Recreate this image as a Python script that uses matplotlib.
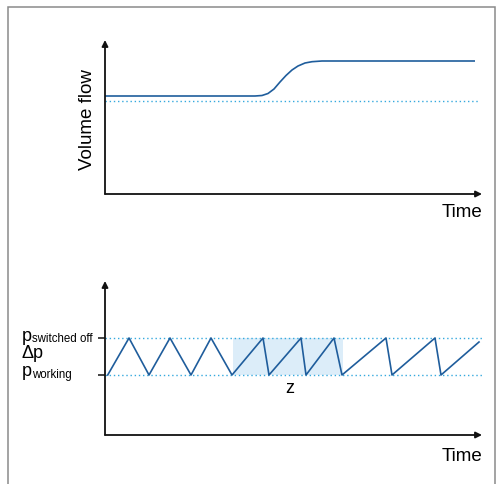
import matplotlib.pyplot as plt
from matplotlib.patches import Rectangle

plt.rcParams['font.family'] = ['Liberation Sans', 'DejaVu Sans']

# top panel: volume flow over time
flow_t = [0, 150, 157, 163, 169, 175, 181, 187, 193, 200, 207, 217, 370]
flow_v = [98, 98, 98.5, 100.5, 105, 112, 118.5, 124, 128, 131, 132.3, 133, 133]
flow_base = 93

# bottom panel: pressure trace
p_t = [2.7, 24, 44, 65, 86, 106, 127, 158, 164, 196, 201, 229, 237, 281, 287, 330, 336, 374]
p_v = [60, 97, 60, 97, 60, 97, 60, 97, 60, 97, 60, 97, 60, 97, 60, 97, 60, 93]
p_working = 60
p_off = 97
z_span = (128, 238)

dark = '#1f5d9c'
light = '#35a9de'
shade = '#dcedf9'

fig = plt.figure(figsize=(4.99, 4.84), dpi=100)
fig.patches.append(Rectangle((7.5 / 499, -0.01), 487 / 499, 1 - 7.5 / 484 + 0.01,
                             transform=fig.transFigure, fill=False,
                             edgecolor='#8a8a8a', lw=1.1))

ax1 = fig.add_axes([105 / 499, 1 - 194 / 484, 377 / 499, 154 / 484])
ax2 = fig.add_axes([105 / 499, 1 - 435 / 484, 377 / 499, 154 / 484])

for ax in (ax1, ax2):
    ax.set_xlim(0, 377)
    ax.set_ylim(0, 154)
    for s in ax.spines.values():
        s.set_visible(False)
    ax.set_xticks([])
    ax.annotate('', xy=(1, 0), xytext=(0, 0), xycoords='axes fraction',
                arrowprops=dict(arrowstyle='-|>', color='#111111', lw=1.3,
                                shrinkA=0, shrinkB=0, mutation_scale=9))
    ax.annotate('', xy=(0, 1), xytext=(0, 0), xycoords='axes fraction',
                arrowprops=dict(arrowstyle='-|>', color='#111111', lw=1.3,
                                shrinkA=0, shrinkB=0, mutation_scale=9))

ax1.set_yticks([])
ax1.plot(flow_t, flow_v, color=dark, lw=1.2, solid_capstyle='butt')
ax1.plot([0, 375], [flow_base, flow_base], color=light, lw=1.0, ls=(0, (1, 2)))
ax1.text(-17, 74, 'Volume flow', rotation=90, ha='center', va='center', fontsize=13.5)
ax1.text(377, -23, 'Time', ha='right', va='baseline', fontsize=13.5)

ax2.axhspan(p_working, p_off, xmin=z_span[0] / 377, xmax=z_span[1] / 377,
            color=shade, lw=0)
for yv in (p_working, p_off):
    ax2.plot([0, 377], [yv, yv], color=light, lw=1.0, ls=(0, (1, 2)))
ax2.plot(p_t, p_v, color=dark, lw=1.2)
ax2.set_yticks([p_working, p_off])
ax2.set_yticklabels(['', ''])
ax2.tick_params(axis='y', length=5, width=1.1, color='#111111')

ax2.text(-83, 94.3, 'p', fontsize=13, va='baseline', ha='left')
ax2.text(-73, 92.7, 'switched off', fontsize=8.3, va='baseline', ha='left')
ax2.text(-83, 77.3, 'Δp', fontsize=13, va='baseline', ha='left')
ax2.text(-83, 59.3, 'p', fontsize=13, va='baseline', ha='left')
ax2.text(-73, 56.7, 'working', fontsize=8.3, va='baseline', ha='left')
ax2.text(185, 42, 'z', fontsize=13, va='baseline', ha='center')
ax2.text(377, -26, 'Time', ha='right', va='baseline', fontsize=13.5)

fig.savefig('out.png', dpi=100)
